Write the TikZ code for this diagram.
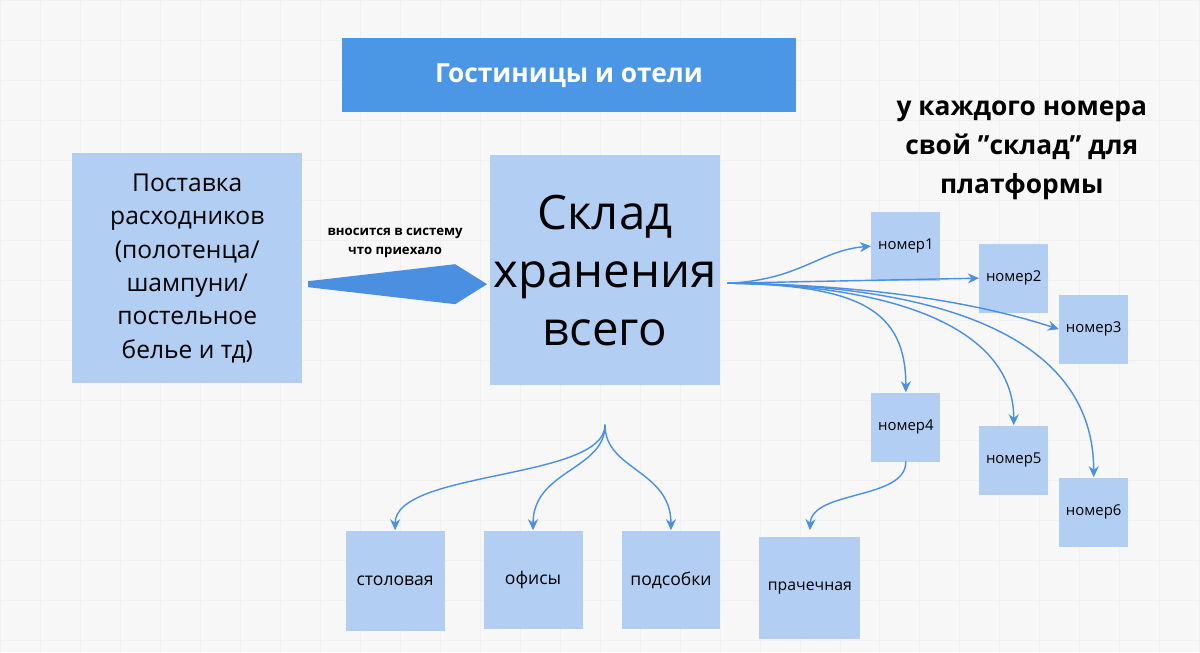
\documentclass[tikz,border=0pt]{standalone}
\usepackage{fontspec}
\setmainfont{Open Sans}
\usetikzlibrary{arrows.meta, calc}
\definecolor{bluebar}{HTML}{4C96E6}
\definecolor{sticky}{HTML}{B3CEF3}
\definecolor{linkblue}{HTML}{4A8FE0}
\tikzset{note/.style={fill=sticky, draw=none, inner sep=0pt, align=center},
		 conn/.style={draw=linkblue, thick, -{Stealth[length=2.2mm, width=2mm]}}}
\begin{document}
\begin{tikzpicture}[x=0.02cm, y=-0.02cm, line cap=round, line join=round]
		% Background
		\fill[white!97!black] (0,0) rectangle (1200,652);
		\foreach \i in {0,40,...,1200}
			\draw[black!6] (\i,0) -- (\i,652);
		\foreach \i in {0,40,...,640}
			\draw[black!6] (0,\i) -- (1200,\i);
		\useasboundingbox (0,0) rectangle (1200,652);

		% Title
		\node[fill=bluebar, minimum width=9.1cm, minimum height=1.48cm, text=white, font=\bfseries\fontsize{15}{18}\selectfont] (title) at (569,75) {Гостиницы и отели};
		\node[align=center, font=\bfseries\fontsize{15}{22}\selectfont] (note) at (1022,150) {у каждого номера\\свой "склад" для\\платформы};

		% Big notes
		\node[note, minimum width=4.6cm, minimum height=4.6cm, font=\fontsize{14}{19}\selectfont] (supply) at (187,268) {Поставка\\расходников\\(полотенца/\\шампуни/\\постельное\\белье и тд)};
		\node[note, minimum width=4.6cm, minimum height=4.6cm, font=\fontsize{27}{33}\selectfont] (store) at (605,270) {Склад\\хранения\\всего};

		% Main arrow
		\fill[linkblue] (308,281) -- (455,264) -- (487,284) -- (455,304) -- (308,287) -- cycle;
		\node[align=center, font=\bfseries\fontsize{7.5}{11}\selectfont] (lbl) at (395,243) {вносится в систему\\что приехало};

		% Rooms
		\foreach \n/\x/\y in {1/906/246, 2/1014/278, 3/1094/329, 4/906/427, 5/1014/460, 6/1094/512}
			\node[note, minimum width=1.38cm, minimum height=1.38cm, font=\fontsize{8.5}{10}\selectfont] (room\n) at (\x,\y) {номер\n};

		% Bottom notes
		\node[note, minimum width=1.98cm, minimum height=2.02cm, font=\fontsize{10}{12}\selectfont] (canteen) at (395,581) {столовая};
		\node[note, minimum width=1.98cm, minimum height=1.98cm, font=\fontsize{10}{12}\selectfont] (office) at (533,580) {офисы};
		\node[note, minimum width=1.98cm, minimum height=1.98cm, font=\fontsize{10}{12}\selectfont] (utility) at (671,580) {подсобки};
		\node[note, minimum width=2.02cm, minimum height=2.06cm, font=\fontsize{9}{11}\selectfont] (laundry) at (810,588) {прачечная};

		% Connectors
		\coordinate (out) at (728,283);
		\coordinate (down) at (605,425);
		\draw[conn] (out) .. controls (800,280) and (820,250) .. (room1.west);
		\draw[conn] (out) -- (room2.west);
		\draw[conn] (out) .. controls (900,285) and (1000,310) .. (room3.west);
		\draw[conn] (out) .. controls (860,285) and (906,310) .. (room4.north);
		\draw[conn] (out) .. controls (900,285) and (1014,330) .. (room5.north);
		\draw[conn] (out) .. controls (950,285) and (1094,340) .. (room6.north);
		\draw[conn] (down) .. controls (605,480) and (395,470) .. (canteen.north);
		\draw[conn] (down) .. controls (605,470) and (533,470) .. (office.north);
		\draw[conn] (down) .. controls (605,470) and (671,470) .. (utility.north);
		\draw[conn] (room4.south) .. controls (906,500) and (812,490) .. ($(laundry.north)+(0,-6)$);
\end{tikzpicture}
\end{document}
